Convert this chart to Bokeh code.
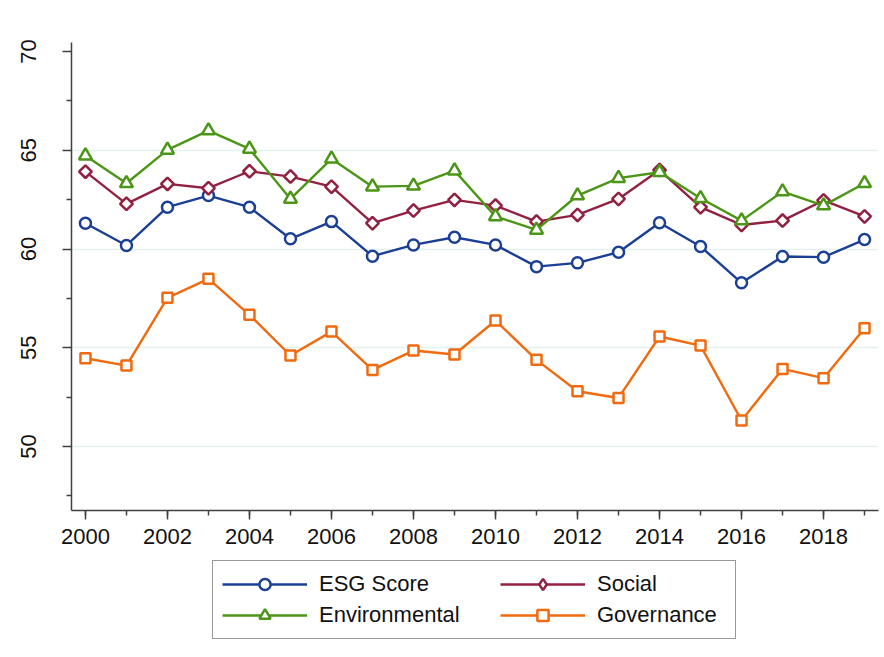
import math
from bokeh.plotting import figure
from bokeh.layouts import column
from bokeh.models import Legend, LegendItem, FixedTicker, Range1d
from bokeh.embed import file_html
from bokeh.resources import INLINE

years = list(range(2000, 2020))
esg = [61.31, 60.18, 62.12, 62.71, 62.12, 60.52, 61.39, 59.64, 60.21, 60.60,
       60.21, 59.11, 59.30, 59.84, 61.33, 60.13, 58.29, 59.62, 59.59, 60.48]
social = [63.92, 62.29, 63.30, 63.08, 63.94, 63.67, 63.16, 61.31, 61.95, 62.49,
          62.20, 61.39, 61.73, 62.54, 64.00, 62.12, 61.22, 61.44, 62.46, 61.65]
environmental = [64.73, 63.33, 65.02, 66.00, 65.07, 62.54, 64.57, 63.16, 63.20, 63.97,
                 61.65, 60.97, 62.71, 63.59, 63.89, 62.57, 61.44, 62.91, 62.20, 63.33]
governance = [54.47, 54.10, 57.53, 58.49, 56.67, 54.61, 55.82, 53.88, 54.86, 54.66,
              56.38, 54.39, 52.80, 52.46, 55.57, 55.11, 51.32, 53.93, 53.46, 55.99]

x_major = list(range(2000, 2019, 2))
x_minor = list(range(2000, 2020))
y_major = [50, 55, 60, 65, 70]
y_minor = [47.5, 52.5, 57.5, 62.5, 67.5]
y_grid = [50, 55, 60, 65]

FONT = "Liberation Sans"
AX = "#404040"

p = figure(width=884, height=552, output_backend="svg", toolbar_location=None,
           x_range=Range1d(1999.66, 2019.34), y_range=Range1d(46.76, 70.46),
           min_border_left=71, min_border_right=6, min_border_top=42,
           min_border_bottom=42)
p.outline_line_color = None
p.background_fill_color = "white"
p.border_fill_color = "white"

p.xgrid.visible = False
p.ygrid.ticker = FixedTicker(ticks=y_grid)
p.ygrid.grid_line_color = "#e2f1ed"
p.ygrid.grid_line_width = 1.5

p.xaxis.ticker = FixedTicker(ticks=x_major, minor_ticks=x_minor)
p.yaxis.ticker = FixedTicker(ticks=y_major, minor_ticks=y_minor)
for ax in (p.xaxis[0], p.yaxis[0]):
    ax.axis_line_color = AX
    ax.axis_line_width = 1.5
    ax.major_tick_line_color = AX
    ax.minor_tick_line_color = AX
    ax.major_tick_line_width = 1.5
    ax.minor_tick_line_width = 1.5
    ax.major_tick_out = 9
    ax.major_tick_in = 0
    ax.minor_tick_out = 5
    ax.minor_tick_in = 0
    ax.major_label_text_font = FONT
    ax.major_label_text_font_size = "22px"
    ax.major_label_text_color = "#111111"
p.xaxis.major_label_standoff = 9
p.yaxis.major_label_orientation = "vertical"
p.yaxis.major_label_standoff = 26

# name, values, colour, plot marker, plot size, angle, legend marker, legend size
series = [
    ("ESG Score", esg, "#1b3f94", "circle", 11, 0, "circle", 8),
    ("Social", social, "#922041", "square", 9, math.pi / 4, "diamond", 14),
    ("Environmental", environmental, "#4b9616", "triangle", 13, 0, "triangle", 10),
    ("Governance", governance, "#f06a0f", "square", 10, 0, "square", 9),
]

# legend panel as a separate figure underneath
q = figure(width=884, height=105, output_backend="svg", toolbar_location=None,
           x_range=Range1d(0, 1), y_range=Range1d(0, 1),
           x_axis_type=None, y_axis_type=None, min_border=0)
q.outline_line_color = None
q.xgrid.visible = False
q.ygrid.visible = False
q.border_fill_color = "white"

items = {}
for name, vals, col, mk, sz, ang, lmk, lsz in series:
    p.line(years, vals, line_color=col, line_width=2.4)
    p.scatter(years, vals, marker=mk, size=sz, angle=ang, line_color=col,
              line_width=2.5, fill_color="white")
    # off-screen proxies so the legend can draw its glyphs
    ln = q.line([-10, -9], [-10, -9], line_color=col, line_width=2.4)
    sc = q.scatter([-10], [-10], marker=lmk, size=lsz, line_color=col,
                   line_width=2.5, fill_color="white")
    items[name] = LegendItem(label=name, renderers=[ln, sc])

common = dict(glyph_width=85, glyph_height=28, label_height=28, spacing=3,
              padding=9, label_standoff=12, label_text_font=FONT,
              label_text_font_size="22px", label_text_color="#111111",
              margin=0)
leg1 = Legend(items=[items["ESG Score"], items["Environmental"]],
              location=(141, 18), label_width=407,
              border_line_color="#333333", border_line_width=1,
              background_fill_color="white", background_fill_alpha=1.0, **common)
leg2 = Legend(items=[items["Social"], items["Governance"]],
              location=(429, 28), border_line_color=None,
              background_fill_alpha=0.0, **common)
q.add_layout(leg1, "center")
q.add_layout(leg2, "center")

layout = column(p, q, spacing=0)
open("out.html", "w").write(file_html(layout, INLINE))
